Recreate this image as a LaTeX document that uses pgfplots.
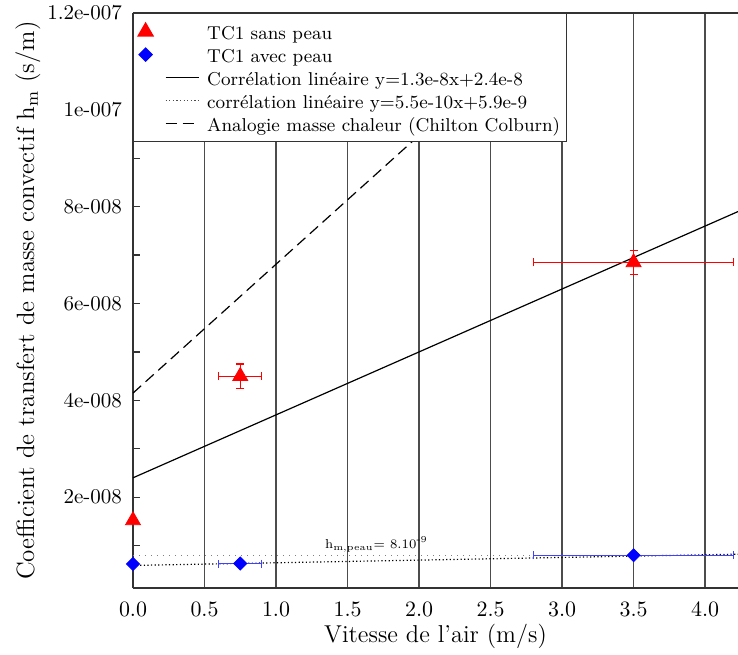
\documentclass[border=0pt]{standalone}
\usepackage{pgfplots}
\pgfplotsset{compat=1.18}
\pgfplotsset{
 legline/.style={legend image code/.code={\draw[##1] (0pt,0pt) -- (16.5pt,0pt); \path[draw=none,fill=none] (-14pt,-3pt) rectangle (16.5pt,3pt);}},
 legmark/.style={legend image code/.code={\draw[##1] plot coordinates {(-10pt,0pt)}; \path[draw=none,fill=none] (-14pt,-3pt) rectangle (16.5pt,3pt);}},
}
\begin{document}
\begin{tikzpicture}
\begin{axis}[
  name=ax,
  scale only axis,
  width=302.5pt, height=287.5pt,
  xmin=0, xmax=4.23,
  ymin=1.24e-9, ymax=1.2e-7,
  separate axis lines,
  axis y line*=left,
  axis line style={black!80, line width=0.7pt},
  xtick={0,0.5,1,1.5,2,2.5,3,3.5,4},
  xtick pos=bottom,
  xmajorgrids,
  grid style={black!70, line width=0.8pt},
  major x tick style={draw=none},
  ticklabel style={font=\fontsize{10.5}{12}\selectfont},
  xticklabel style={yshift=-3.5pt, /pgf/number format/.cd, fixed, fixed zerofill, precision=1},
  ytick={2e-8,4e-8,6e-8,8e-8,1e-7,1.2e-7},
  yticklabels={2e-008,4e-008,6e-008,8e-008,1e-007,1.2e-007},
  minor ytick={1e-8,3e-8,5e-8,7e-8,9e-8,1.1e-7},
  yticklabel style={xshift=-2pt},
  scaled y ticks=false,
  tick align=inside,
  major tick length=3.5pt, minor tick length=3.5pt,
  tick style={black!80, line width=0.6pt},
  xlabel={Vitesse de l'air (m/s)},
  ylabel={Coefficient de transfert de masse convectif h\textsubscript{m} (s/m)},
  every axis x label/.style={at={(axis description cs:0.5,-0.0835)}, anchor=center, font=\fontsize{12.2}{14}\selectfont},
  every axis y label/.style={at={(axis description cs:-0.1736,0.5)}, anchor=center, rotate=90, font=\fontsize{12.5}{15}\selectfont},
  legend style={at={(0,1)}, anchor=north west, draw=black!80, line width=0.6pt, fill=white,
    font=\fontsize{9.3}{11}\selectfont, inner xsep=2pt, inner ysep=3.25pt, row sep=0pt, column sep=3pt,
    nodes={inner sep=1pt, text height=8.75pt, text depth=0.75pt}},
  legend cell align=left,
]
% horizontal reference line h_m,peau = 8e-9
\addplot[forget plot, gray, line width=0.7pt, dash pattern=on 0.7pt off 2.3pt] coordinates {(0,8e-9) (4.23,8e-9)};
% fits
\addplot[forget plot, black, line width=0.6pt] coordinates {(0,2.4e-8) (4.23,7.899e-8)};
\addplot[forget plot, black, line width=0.6pt, dash pattern=on 0.6pt off 1.2pt] coordinates {(0,5.9e-9) (4.23,8.23e-9)};
% Chilton Colburn analogy
\addplot[forget plot, black, line width=0.6pt, dash pattern=on 5.5pt off 3pt] coordinates {(0,4.15e-8) (2.95,1.2e-7)};
% points at x = 0 (no error bars)
\addplot[forget plot, only marks, mark=triangle*, mark size=4.3pt, color=red] coordinates {(0,1.52e-8)};
\addplot[forget plot, only marks, mark=square*, mark size=2.3pt, mark options={rotate=45}, color=blue] coordinates {(0,6.2e-9)};
% TC1 sans peau
\addplot[legmark, only marks, mark=triangle*, mark size=4.3pt, color=red,
  error bars/.cd, x dir=both, x explicit, y dir=both, y explicit,
  error bar style={red, line width=0.6pt}, error mark options={rotate=90, red, mark size=2pt, line width=0.6pt}]
  coordinates {(0.75,4.5e-8) +- (0.15,2.5e-9) (3.5,6.85e-8) +- (0.7,2.5e-9)};
\addlegendentry{TC1 sans peau}
% TC1 avec peau
\addplot[legmark, only marks, mark=square*, mark size=2.3pt, mark options={rotate=45}, color=blue,
  error bars/.cd, x dir=both, x explicit,
  error bar style={blue!75, line width=0.6pt}, error mark options={rotate=90, blue!75, mark size=2pt, line width=0.6pt}]
  coordinates {(0.75,6.3e-9) +- (0.15,0) (3.5,8.0e-9) +- (0.7,0)};
\addlegendentry{TC1 avec peau}
% legend-only entries for the three lines
\addlegendimage{legline, black, line width=0.6pt}
\addlegendentry{Corrélation linéaire y=1.3e-8x+2.4e-8}
\addlegendimage{legline, black!70, line width=0.6pt, dash pattern=on 0.6pt off 1.2pt}
\addlegendentry{corrélation linéaire y=5.5e-10x+5.9e-9}
\addlegendimage{legline, black, line width=0.6pt, dash pattern=on 5.5pt off 3pt}
\addlegendentry{Analogie masse chaleur (Chilton Colburn)}
\node[anchor=base west, font=\fontsize{6.5}{8}\selectfont, inner sep=0pt] at (axis cs:1.34,9.5e-9) {h\textsubscript{m,peau}= 8.10\textsuperscript{-9}};
\end{axis}
\pgfresetboundingbox
\path[use as bounding box] ([shift={(-66.5pt,-33pt)}]ax.south west) rectangle ([shift={(0pt,6.5pt)}]ax.north east);
\end{tikzpicture}
\end{document}
